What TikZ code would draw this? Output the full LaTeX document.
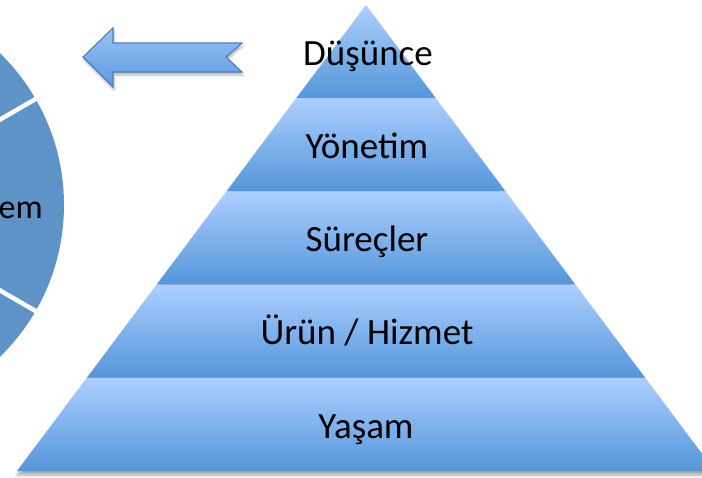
\documentclass[tikz,border=0pt]{standalone}
\usepackage{fontspec}
\setmainfont{Carlito}
\usetikzlibrary{calc,shadows.blur}

\definecolor{bandtop}{RGB}{172,207,255}
\definecolor{bandbot}{RGB}{84,150,218}
\definecolor{wheelblue}{RGB}{94,147,200}
\definecolor{arrowtop}{RGB}{152,196,246}
\definecolor{arrowbot}{RGB}{92,152,222}
\definecolor{arrowline}{RGB}{72,126,192}

\tikzset{
  tier/.style={top color=bandtop, bottom color=bandbot},
  tierlabel/.style={font=\fontsize{37}{44}\selectfont, text=black, inner sep=0pt, anchor=base},
  wheellabel/.style={font=\fontsize{34}{40}\selectfont, text=black, inner sep=0pt},
}

\begin{document}
\begin{tikzpicture}[x=1pt,y=-1pt]
\useasboundingbox (0,0) rectangle (702,477);
\begin{scope}
\clip (0,0) rectangle (702,477);

% wheel on the left, only partly in view
\fill[wheelblue] (-148,205) circle (212);
\draw[white, line width=4.5pt] (-148,205) -- ++(-30:260);
\draw[white, line width=4.5pt] (-148,205) -- ++(30:260);
\node[wheellabel, anchor=base east] (em) at (43,218) {em};

% pyramid outline points
\coordinate (apex) at (366,5);
\coordinate (bl) at (17,471);
\coordinate (br) at (715,471);

% soft shadow under the pyramid
\path[blur shadow={shadow xshift=0pt, shadow yshift=-4pt, shadow blur radius=3pt, shadow opacity=35}]
  (apex) -- (bl) -- (br) -- cycle;

% five shaded tiers
\foreach \i in {0,...,4} {
  \pgfmathsetmacro{\ta}{\i/5}
  \pgfmathsetmacro{\tb}{(\i+1)/5}
  \shade[tier] ($(apex)!\ta!(bl)$) -- ($(apex)!\tb!(bl)$) -- ($(apex)!\tb!(br)$) -- ($(apex)!\ta!(br)$) -- cycle;
}

\node[tierlabel] (t1) at (368,65) {Düşünce};
\node[tierlabel] (t2) at (367,158) {Yönetim};
\node[tierlabel] (t3) at (367,251) {Süreçler};
\node[tierlabel] (t4) at (367,344) {Ürün / Hizmet};
\node[tierlabel] (t5) at (366,438) {Yaşam};

% block arrow pointing left with notched tail
\coordinate (tip) at (83,57);
\coordinate (ht) at (113,28);
\coordinate (st) at (113,43);
\coordinate (tt) at (242,43);
\coordinate (notch) at (226,57);
\coordinate (tb) at (242,72);
\coordinate (sb) at (113,72);
\coordinate (hb) at (113,87);
\shadedraw[top color=arrowtop, bottom color=arrowbot, draw=arrowline, line width=1.1pt, line join=miter,
  blur shadow={shadow xshift=1pt, shadow yshift=-3pt, shadow blur radius=2.5pt, shadow opacity=30}]
  (tip) -- (ht) -- (st) -- (tt) -- (notch) -- (tb) -- (sb) -- (hb) -- cycle;
\end{scope}
\end{tikzpicture}
\end{document}
